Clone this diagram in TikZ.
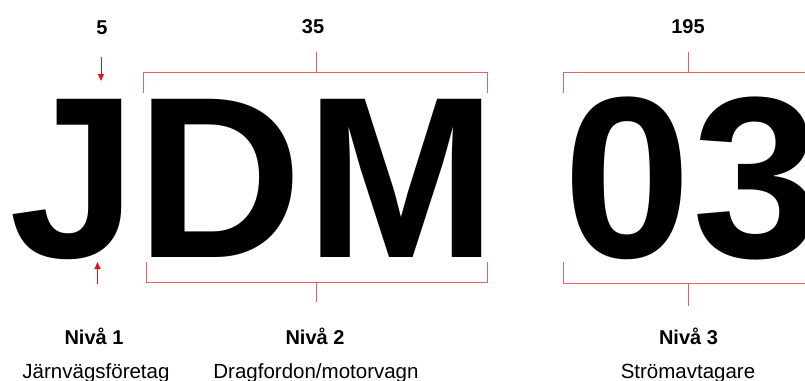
\documentclass[tikz,border=0pt]{standalone}
\usepackage{fontspec}
\setmainfont{Liberation Sans}
\usetikzlibrary{arrows.meta}
\definecolor{brk}{RGB}{232,96,106}
\definecolor{arr}{RGB}{225,20,20}
\begin{document}
\begin{tikzpicture}[x=1pt,y=-1pt,
  big/.style={anchor=base west,inner sep=0pt,font=\fontsize{230}{230}\selectfont\bfseries},
  num/.style={anchor=base,inner sep=0pt,font=\fontsize{20}{24}\selectfont\bfseries},
  lvl/.style={anchor=base,inner sep=0pt,font=\fontsize{20}{24}\selectfont\bfseries},
  desc/.style={anchor=base,inner sep=0pt,font=\fontsize{20.5}{24}\selectfont},
  bracket/.style={draw=brk,line width=0.9pt},
  redarrow/.style={draw=arr,line width=0.9pt,-{Triangle[length=7pt,width=6pt]}}]
\useasboundingbox (0,0) rectangle (805,380);
% big letters
\node[big] (J) at (9,257) {J};
\node[big] (D) at (136,257) {D};
\node[big] (M) at (305.5,257) {M};
\node[big] (Z) at (563.5,257) {0};
\node[big] (T) at (692.5,257) {3};
% numbers
\node[num] (n5) at (102,34) {5};
\node[num] (n35) at (313,33.5) {35};
\node[num] (n195) at (688,33.5) {195};
% levels
\node[lvl] (l1) at (94,344) {Nivå 1};
\node[lvl] (l2) at (315,344) {Nivå 2};
\node[lvl] (l3) at (688.5,344) {Nivå 3};
\node[desc] (d1) at (96,378) {Järnvägsföretag};
\node[desc] (d2) at (316,378) {Dragfordon/motorvagn};
\node[desc] (d3) at (688,378) {Strömavtagare};
% arrows for level 1
\coordinate (a1s) at (101,57);
\coordinate (a1e) at (101,81);
\coordinate (a2s) at (97.5,284);
\coordinate (a2e) at (97.5,262);
\draw[redarrow] (a1s) -- (a1e);
\draw[redarrow] (a2s) -- (a2e);
% bracket level 2 top
\coordinate (t2l) at (143.5,93);
\coordinate (t2r) at (487.5,93);
\coordinate (t2c) at (316,52);
\draw[bracket] (t2l) |- (t2r |- 0,72.5) -- (t2r);
\draw[bracket] (t2c) -- (t2c |- 0,72.5);
% bracket level 2 bottom
\coordinate (b2l) at (146,262);
\coordinate (b2r) at (487.5,262);
\coordinate (b2c) at (316,302);
\draw[bracket] (b2l) |- (b2r |- 0,282) -- (b2r);
\draw[bracket] (b2c) -- (b2c |- 0,282);
% bracket level 3 top
\coordinate (t3l) at (563.5,93);
\coordinate (t3r) at (806,72.5);
\coordinate (t3c) at (688.5,52);
\draw[bracket] (t3l) |- (t3r);
\draw[bracket] (t3c) -- (t3c |- 0,72.5);
% bracket level 3 bottom
\coordinate (b3l) at (563.5,262);
\coordinate (b3r) at (806,283);
\coordinate (b3c) at (688.5,305.5);
\draw[bracket] (b3l) |- (b3r);
\draw[bracket] (b3c) -- (b3c |- 0,283);
\end{tikzpicture}
\end{document}
